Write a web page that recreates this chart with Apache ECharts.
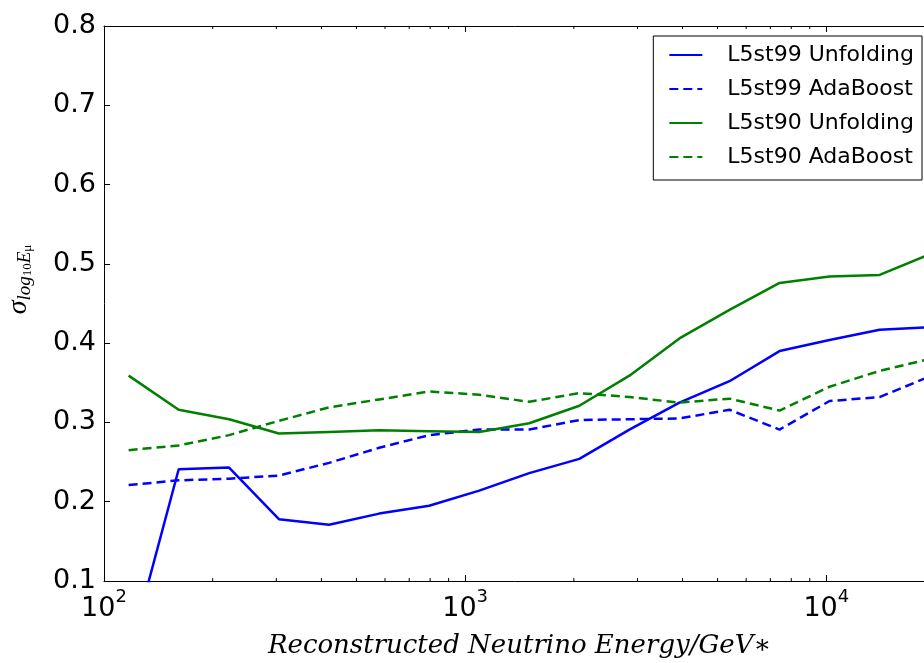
<!DOCTYPE html>
<html>
<head>
<meta charset="utf-8">
<script src="https://cdn.jsdelivr.net/npm/echarts@6/dist/echarts.min.js"></script>
<style>
html, body { margin: 0; padding: 0; background: #fff; }
#chart { width: 924px; height: 663px; }
</style>
</head>
<body>
<div id="chart"></div>
<script>
// bin centres (GeV) and resolution values
var energy = [117, 161, 222, 305, 420, 578, 795, 1094, 1505, 2071, 2850, 3921, 5395, 7423, 10210, 14050, 19330];
var unfold99 = [0.005, 0.241, 0.243, 0.178, 0.171, 0.185, 0.195, 0.214, 0.236, 0.254, 0.291, 0.325, 0.352, 0.390, 0.404, 0.417, 0.420];
var ada99 = [0.221, 0.227, 0.229, 0.233, 0.249, 0.268, 0.284, 0.291, 0.291, 0.303, 0.304, 0.305, 0.316, 0.291, 0.327, 0.332, 0.358];
var unfold90 = [0.359, 0.316, 0.304, 0.286, 0.288, 0.290, 0.289, 0.288, 0.299, 0.321, 0.359, 0.406, 0.442, 0.476, 0.484, 0.486, 0.512];
var ada90 = [0.265, 0.271, 0.284, 0.302, 0.319, 0.329, 0.339, 0.335, 0.326, 0.337, 0.332, 0.325, 0.330, 0.315, 0.345, 0.365, 0.380];
var seriesNames = ['L5st99 Unfolding', 'L5st99 AdaBoost', 'L5st90 Unfolding', 'L5st90 AdaBoost'];
var minorTicks = [200, 300, 400, 500, 600, 700, 800, 900, 2000, 3000, 4000, 5000, 6000, 7000, 8000, 9000];

function pairs(ys) {
    return energy.map(function (x, i) { return [x, ys[i]]; });
}

var BLUE = '#0000ff';
var GREEN = '#008000';
var DASH = [9, 5];

var myChart = echarts.init(document.getElementById('chart'));

function lineSeries(name, ys, color, dashed) {
    return {
        name: name,
        type: 'line',
        symbol: 'none',
        data: pairs(ys),
        color: color,
        lineStyle: { width: 2.5, color: color, type: dashed ? DASH : 'solid' },
        z: 3
    };
}

var axisLineStyle = { lineStyle: { color: '#000', width: 1 } };

myChart.setOption({
    backgroundColor: '#fff',
    animation: false,
    grid: { left: 104, top: 26, bottom: 82, right: -11, outerBoundsMode: 'none', containLabel: false },
    legend: {
        orient: 'vertical',
        right: 2,
        top: 36,
        data: seriesNames,
        itemWidth: 33,
        itemHeight: 14,
        itemGap: 8,
        padding: [6, 8, 10, 15],
        borderColor: '#000',
        borderWidth: 1,
        borderRadius: 0,
        backgroundColor: '#fff',
        itemStyle: { opacity: 0 },
        textStyle: {
            fontFamily: 'DejaVu Sans',
            fontSize: 22,
            lineHeight: 26,
            color: '#000',
            padding: [0, 0, 0, 20]
        }
    },
    xAxis: [
        {
            type: 'log',
            logBase: 10,
            min: 100,
            max: 20000,
            name: 'Reconstructed Neutrino Energy/GeV\u2217',
            nameLocation: 'middle',
            nameGap: 52,
            nameTextStyle: {
                fontFamily: 'DejaVu Serif',
                fontStyle: 'italic',
                fontSize: 26,
                color: '#000'
            },
            axisLine: axisLineStyle,
            axisTick: { inside: true, length: 6, lineStyle: { color: '#000' } },
            splitLine: { show: false },
            axisLabel: {
                margin: 7,
                showMaxLabel: false,
                formatter: function (v) {
                    var e = Math.log10(v);
                    if (Math.abs(e - Math.round(e)) > 1e-6) return '';
                    return '{b|10}{s|' + Math.round(e) + '}';
                },
                rich: {
                    b: { fontFamily: 'DejaVu Sans', fontSize: 27, color: '#000', lineHeight: 34, verticalAlign: 'bottom' },
                    s: { fontFamily: 'DejaVu Sans', fontSize: 18, color: '#000', lineHeight: 34, verticalAlign: 'top' }
                }
            }
        },
        {
            type: 'log',
            logBase: 10,
            min: 100,
            max: 20000,
            position: 'top',
            axisLine: axisLineStyle,
            axisTick: { inside: true, length: 6, lineStyle: { color: '#000' } },
            axisLabel: { show: false },
            splitLine: { show: false }
        }
    ],
    yAxis: {
        type: 'value',
        min: 0.1,
        max: 0.8,
        interval: 0.1,
        name: '{a|\u03c3}{b|log}{c|10}{b|E}{c|\u03bc}',
        nameLocation: 'middle',
        nameGap: 70,
        nameTextStyle: {
            padding: [0, 0, 0, 48],
            rich: {
                a: { fontFamily: 'Liberation Serif', fontStyle: 'italic', fontSize: 28, color: '#000', lineHeight: 30, verticalAlign: 'middle' },
                b: { fontFamily: 'Liberation Serif', fontStyle: 'italic', fontSize: 19, color: '#000', lineHeight: 30, verticalAlign: 'bottom' },
                c: { fontFamily: 'Liberation Serif', fontSize: 13, color: '#000', lineHeight: 30, verticalAlign: 'bottom' }
            }
        },
        axisLine: { show: true, lineStyle: { color: '#000', width: 1 } },
        axisTick: { inside: true, length: 6, lineStyle: { color: '#000' } },
        splitLine: { show: false },
        axisLabel: {
            margin: 8,
            fontFamily: 'DejaVu Sans',
            fontSize: 27,
            color: '#000',
            formatter: function (v) { return v.toFixed(1); }
        }
    },
    series: [
        lineSeries(seriesNames[0], unfold99, BLUE, false),
        lineSeries(seriesNames[1], ada99, BLUE, true),
        lineSeries(seriesNames[2], unfold90, GREEN, false),
        lineSeries(seriesNames[3], ada90, GREEN, true),
        {
            // minor log ticks on bottom and top spines
            type: 'custom',
            silent: true,
            clip: false,
            data: minorTicks.map(function (v) { return [v]; }),
            encode: { x: 0 },
            renderItem: function (params, api) {
                var v = api.value(0);
                var b = api.coord([v, 0.1]);
                var t = api.coord([v, 0.8]);
                return {
                    type: 'group',
                    children: [
                        { type: 'line', shape: { x1: b[0], y1: b[1], x2: b[0], y2: b[1] - 3 }, style: { stroke: '#000', lineWidth: 1 } },
                        { type: 'line', shape: { x1: t[0], y1: t[1], x2: t[0], y2: t[1] + 3 }, style: { stroke: '#000', lineWidth: 1 } }
                    ]
                };
            }
        }
    ]
});
</script>
</body>
</html>
